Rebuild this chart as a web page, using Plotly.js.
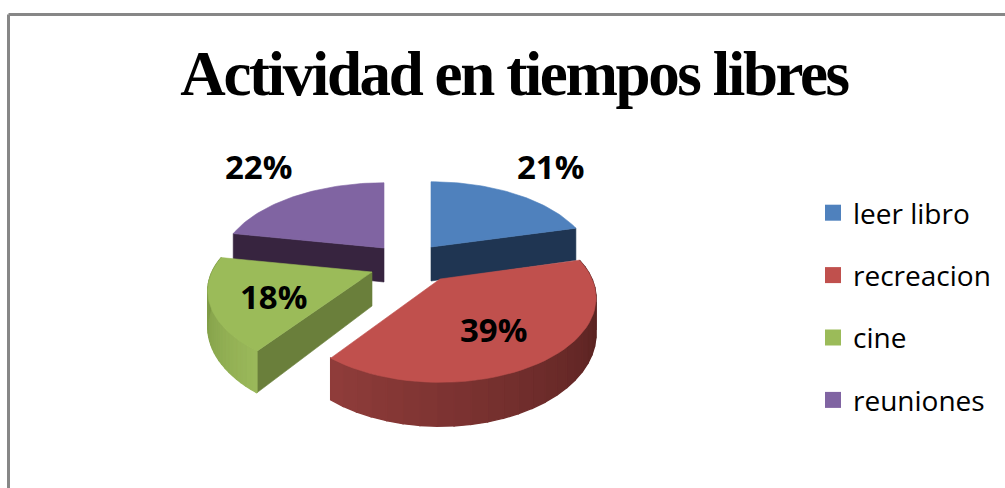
<!DOCTYPE html>
<html>
<head>
<meta charset="utf-8">
<script src="https://cdn.plot.ly/plotly-3.0.1.min.js"></script>
<style>html,body{margin:0;padding:0;background:#fff}#c{width:1005px;height:488px}.gtitle{letter-spacing:-2.4px}</style>
</head>
<body>
<div id="c"></div>
<script>
// Data
const categories = ['leer libro', 'recreacion', 'cine', 'reuniones'];
const shares = [21, 39, 18, 22];

// Styles
const topColors = ['#4f81bd', '#c0504d', '#9bbb59', '#8064a2'];
const cutColors = ['#1f3552', '#5a2322', '#6a7f3b', '#37243f'];
const wallFrom = ['#1f3552', '#4a1b1a', '#9ab85a', '#37243f'];
const wallTo = ['#1f3552', '#8f3c3a', '#76923f', '#37243f'];

// Pie geometry (pixel axes); exploded slice anchors
const anchorX = [431, 440, 372, 384];
const anchorY = [247, 279, 272, 248];
const radiusX = [158, 152, 160, 160];
const radiusY = 80, depth = 34, persp = 0.226;
const labelX = [550, 493, 273, 258];
const labelY = [166, 329, 296, 166];
const drawOrder = [0, 3, 2, 1];

function project(i, t, h) {
  const u = Math.sin(t), v = -Math.cos(t), d = 1 - persp * v;
  return [anchorX[i] + radiusX[i] * u / d, anchorY[i] + (radiusY * v + h * depth) / d];
}
function apex(i, h) { return [anchorX[i], anchorY[i] + h * depth]; }
function hex(c) { return [1, 3, 5].map(k => parseInt(c.substr(k, 2), 16)); }
function mix(a, b, f) {
  const A = hex(a), B = hex(b);
  return 'rgb(' + A.map((x, k) => Math.round(x + (B[k] - x) * f)).join(',') + ')';
}
function poly(pts, color, w) {
  return {
    type: 'scatter', mode: 'lines', fill: 'toself', fillcolor: color,
    x: pts.map(p => p[0]).concat(pts[0][0]), y: pts.map(p => p[1]).concat(pts[0][1]),
    line: { color: color, width: w || 0.6 }, hoverinfo: 'skip', showlegend: false
  };
}

const total = shares.reduce((a, b) => a + b, 0);
const bounds = [];
let acc = 0;
shares.forEach(s => { bounds.push([acc / total * 2 * Math.PI, (acc + s) / total * 2 * Math.PI]); acc += s; });

const traces = [];
drawOrder.forEach(i => {
  const [a, b] = bounds[i];
  // cut walls
  if (i === 0) traces.push(poly([apex(i, 0), project(i, b, 0), project(i, b, 1), apex(i, 1)], cutColors[i]));
  if (i === 2 || i === 3) traces.push(poly([apex(i, 0), project(i, a, 0), project(i, a, 1), apex(i, 1)], cutColors[i]));
  // outer wall
  if (i === 1 || i === 2) {
    const n = 28;
    for (let k = 0; k < n; k++) {
      const t0 = a + (b - a) * k / n, t1 = a + (b - a) * (k + 1) / n;
      traces.push(poly([project(i, t0, 0), project(i, t1, 0), project(i, t1, 1), project(i, t0, 1)],
        mix(wallFrom[i], wallTo[i], k / (n - 1)), 1.4));
    }
  }
  // top face
  const pts = [apex(i, 0)];
  const n = 48;
  for (let k = 0; k <= n; k++) pts.push(project(i, a + (b - a) * k / n, 0));
  traces.push(poly(pts, topColors[i]));
});

// legend entries
categories.forEach((c, i) => traces.push({
  type: 'scatter', mode: 'markers', x: [null], y: [null], name: c, legendgroup: c,
  marker: { symbol: 'square', size: 18, color: topColors[i] }, hoverinfo: 'skip'
}));

const layout = {
  width: 1005, height: 488,
  margin: { l: 0, r: 0, t: 0, b: 0 },
  paper_bgcolor: '#fff', plot_bgcolor: '#fff',
  xaxis: { range: [0, 1005], visible: false, fixedrange: true },
  yaxis: { range: [488, 0], visible: false, fixedrange: true },
  title: {
    text: '<b>Actividad en tiempos libres</b>',
    font: { family: 'Liberation Serif', size: 63, color: '#000' },
    x: 514 / 1005, xanchor: 'center', y: 1 - 95 / 488, yanchor: 'bottom'
  },
  legend: {
    x: 813 / 1005, y: 1 - 188 / 488, xanchor: 'left', yanchor: 'top',
    font: { family: 'Open Sans', size: 28, color: '#000' },
    tracegroupgap: 23, bgcolor: 'rgba(0,0,0,0)'
  },
  shapes: [
    { type: 'line', x0: 8.5, x1: 1005, y0: 14.5, y1: 14.5, line: { color: '#878787', width: 3 } },
    { type: 'line', x0: 8.5, x1: 8.5, y0: 14.5, y1: 488, line: { color: '#878787', width: 3 } }
  ],
  annotations: shares.map((s, i) => ({
    x: labelX[i], y: labelY[i], text: '<b>' + s + '%</b>', showarrow: false,
    font: { family: 'Open Sans', size: 33, color: '#000' }
  }))
};
Plotly.newPlot('c', traces, layout, { displayModeBar: false, staticPlot: true });
</script>
</body>
</html>
